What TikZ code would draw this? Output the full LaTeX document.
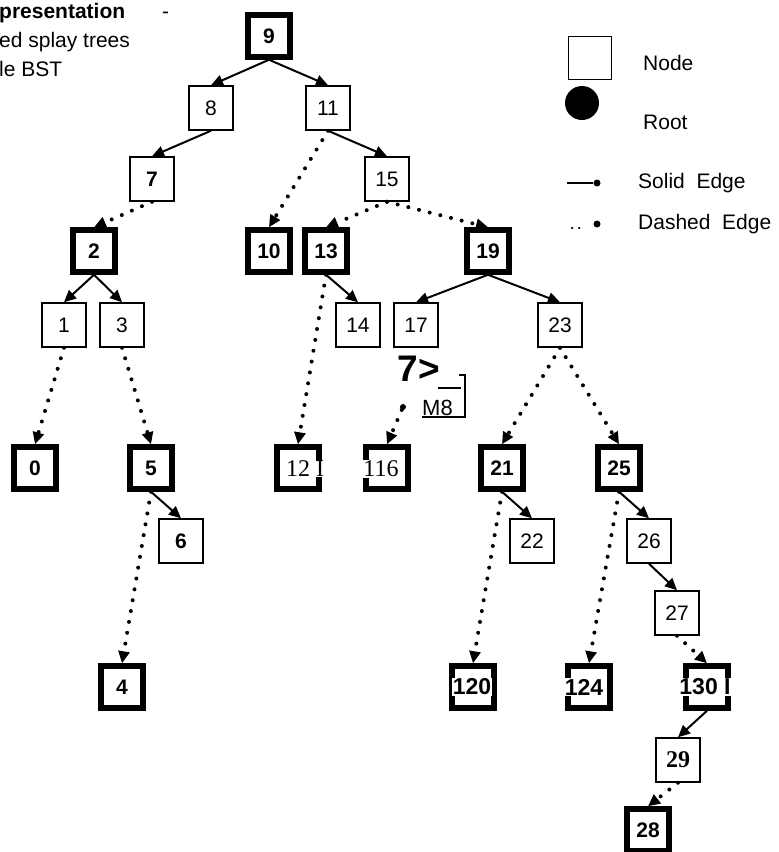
\documentclass[tikz,border=0pt]{standalone}
\usepackage{fontspec}
\setmainfont{Liberation Sans}
\newfontfamily\serf{Liberation Serif}
\usetikzlibrary{arrows.meta}
\tikzset{
  nd/.style={draw, line width=1.5pt, minimum size=44pt, inner sep=0pt, font=\fontsize{21}{25}\selectfont},
  rt/.style={nd, line width=5.5pt, minimum size=42pt, font=\fontsize{21}{25}\selectfont\bfseries},
  lbl/.style={fill=white, inner sep=0.5pt, font=\fontsize{23}{27}\selectfont\bfseries},
  sedge/.style={-{Triangle[length=12pt,width=11pt]}, line width=2pt},
  dedge/.style={sedge, line cap=round, dash pattern=on 0pt off 11pt, line width=4pt},
  lgd/.style={anchor=west, inner sep=0pt, font=\fontsize{21}{25}\selectfont},
  dot/.style={circle, fill, inner sep=0pt, minimum size=#1},
}
\begin{document}
\begin{tikzpicture}[x=1pt,y=-1pt]
 \useasboundingbox (0,0) rectangle (779,852);
 % title, cut at the left edge
 \node[anchor=base west, inner sep=0pt, font=\fontsize{21}{25}\selectfont\bfseries] (ttl) at (-1,18) {presentation};
 \node[anchor=base west, inner sep=0pt, font=\fontsize{21}{25}\selectfont] (hyph) at (162,18) {-};
 \node[anchor=base west, inner sep=0pt, font=\fontsize{21}{25}\selectfont] (ttlb) at (-1,47) {ed splay trees};
 \node[anchor=base west, inner sep=0pt, font=\fontsize{21}{25}\selectfont] (ttlc) at (-1,76) {le BST};
 % roots of the splay trees
 \foreach \n/\x/\y in {9/269/36, 2/94/251, 10/269/251, 13/326/251, 19/488/251,
   0/35/468, 5/151/468, 21/502/468, 25/619/468, 4/122/687, 28/648/830}
   \node[rt] (n\n) at (\x,\y) {\n};
 \foreach \n/\x/\y in {12/298/468, 16/387/468, 120/473/687, 124/589/687, 130/707/687}
   \node[rt] (n\n) at (\x,\y) {};
 % labels that run over the borders
 \node[lbl, font=\fontsize{24}{28}\selectfont\serf] (t12) at (305,469) {12 I};
 \node[lbl, font=\fontsize{24}{28}\selectfont\serf] (t16) at (381,469) {116};
 \node[lbl] (t120) at (472,687) {120};
 \node[lbl] (t124) at (584,687) {124};
 \node[lbl] (t130) at (705,687) {130 I};
 % other nodes
 \foreach \n/\x/\y in {8/211/108, 11/328/108, 15/387/179, 1/64/325, 3/122/325,
   14/358/325, 17/416/325, 23/560/325, 22/532/541, 26/649/541, 27/677/613}
   \node[nd] (n\n) at (\x,\y) {\n};
 \node[nd, font=\fontsize{21}{25}\selectfont\bfseries] (n7) at (152,179) {7};
 \node[nd, font=\fontsize{21}{25}\selectfont\bfseries] (n6) at (181,541) {6};
 \node[nd, font=\fontsize{24}{28}\selectfont\serf\bfseries] (n29) at (678,760) {29};
 % solid edges
 \foreach \a/\b in {9/8, 9/11, 8/7, 11/15, 2/1, 2/3, 13/14, 19/17, 19/23,
   5/6, 21/22, 25/26, 26/27, 130/29}
   \draw[sedge] (n\a.south) -- (n\b.north);
 % dashed edges
 \foreach \a/\b in {11/10, 7/2, 15/13, 15/19, 1/0, 3/5, 13/12, 23/21, 23/25,
   5/4, 21/120, 25/124, 27/130, 29/28}
   \draw[dedge] (n\a.south) -- (n\b.north);
 % scan noise under 17
 \node[font=\fontsize{37}{40}\selectfont\bfseries, inner sep=0pt] (sev) at (419,369) {7>};
 \node[anchor=base west, inner sep=0pt, font=\fontsize{22}{26}\selectfont] (m8) at (422,415) {M8};
 \draw[line width=1.5pt] (438,388) -- (461,388);
 \draw[line width=1.5pt] (459,375) -- (465,375) -- (465,417) -- (422,417);
 \node[dot=6pt] (nse) at (403,407) {};
 \draw[dedge] (nse) -- (n16.north);
 % legend
 \node[nd, minimum size=43pt] (lsq) at (590,58) {};
 \node[dot=34pt] (lrt) at (582,103) {};
 \node[lgd] (lnode) at (643,63) {Node};
 \node[lgd] (lroot) at (643,122) {Root};
 \coordinate (lsa) at (567,183);
 \node[dot=7pt] (lsd) at (597,183) {};
 \draw[line width=1.5pt] (lsa) -- (lsd);
 \node[lgd] (lsol) at (638,183) {Solid\ \ Edge};
 \coordinate (lda) at (572,228);
 \node[dot=7pt] (ldd) at (597,224) {};
 \draw[line cap=round, dash pattern=on 0pt off 7pt, line width=2.5pt] (lda) -- ++(8,0);
 \node[lgd] (ldas) at (638,224) {Dashed\ \ Edge};
\end{tikzpicture}
\end{document}
